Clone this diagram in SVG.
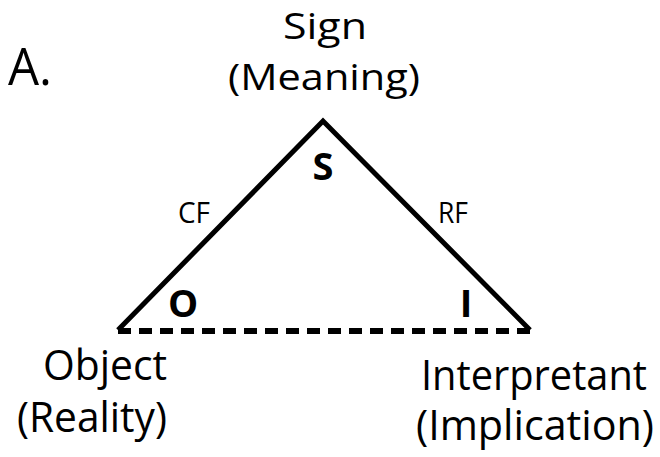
<svg xmlns="http://www.w3.org/2000/svg" width="660" height="457" viewBox="0 0 660 457">
<style>
.t{font-family:"Open Sans","Noto Sans","Liberation Sans",sans-serif;fill:#000}
.b{font-family:"Open Sans","Noto Sans","Liberation Sans",sans-serif;font-weight:bold;fill:#000}
.side{fill:none;stroke:#000;stroke-width:5;stroke-linejoin:miter}
.base{fill:none;stroke:#000;stroke-width:6;stroke-dasharray:13 8}
</style>
<rect width="660" height="457" fill="#fff"/>
<g id="connectors">
<polyline class="side" points="118,330 323,121 530,330"/>
<line class="base" x1="118" y1="331" x2="530" y2="331"/>
</g>
<g id="label-A"><text class="t" x="8" y="85" font-size="52" textLength="44" lengthAdjust="spacingAndGlyphs">A.</text></g>
<g id="node-sign">
<text class="t" x="283" y="39" font-size="36" textLength="84" lengthAdjust="spacingAndGlyphs">Sign</text>
<text class="t" x="228" y="90" font-size="36" textLength="192" lengthAdjust="spacingAndGlyphs">(Meaning)</text>
</g>
<g id="node-object">
<text class="t" x="43" y="380" font-size="42" textLength="124" lengthAdjust="spacingAndGlyphs">Object</text>
<text class="t" x="17" y="432" font-size="42" textLength="150" lengthAdjust="spacingAndGlyphs">(Reality)</text>
</g>
<g id="node-interpretant">
<text class="t" x="421" y="390" font-size="42" textLength="226" lengthAdjust="spacingAndGlyphs">Interpretant</text>
<text class="t" x="416" y="440" font-size="42" textLength="238" lengthAdjust="spacingAndGlyphs">(Implication)</text>
</g>
<g id="label-CF"><text class="t" x="178" y="223" font-size="29" textLength="32" lengthAdjust="spacingAndGlyphs">CF</text></g>
<g id="label-RF"><text class="t" x="438" y="223" font-size="29" textLength="30" lengthAdjust="spacingAndGlyphs">RF</text></g>
<g id="label-S"><text class="b" x="323" y="180" font-size="38" text-anchor="middle">S</text></g>
<g id="label-O"><text class="b" x="183" y="317" font-size="38" text-anchor="middle">O</text></g>
<g id="label-I"><text class="b" x="466" y="317" font-size="38" text-anchor="middle">I</text></g>
</svg>
